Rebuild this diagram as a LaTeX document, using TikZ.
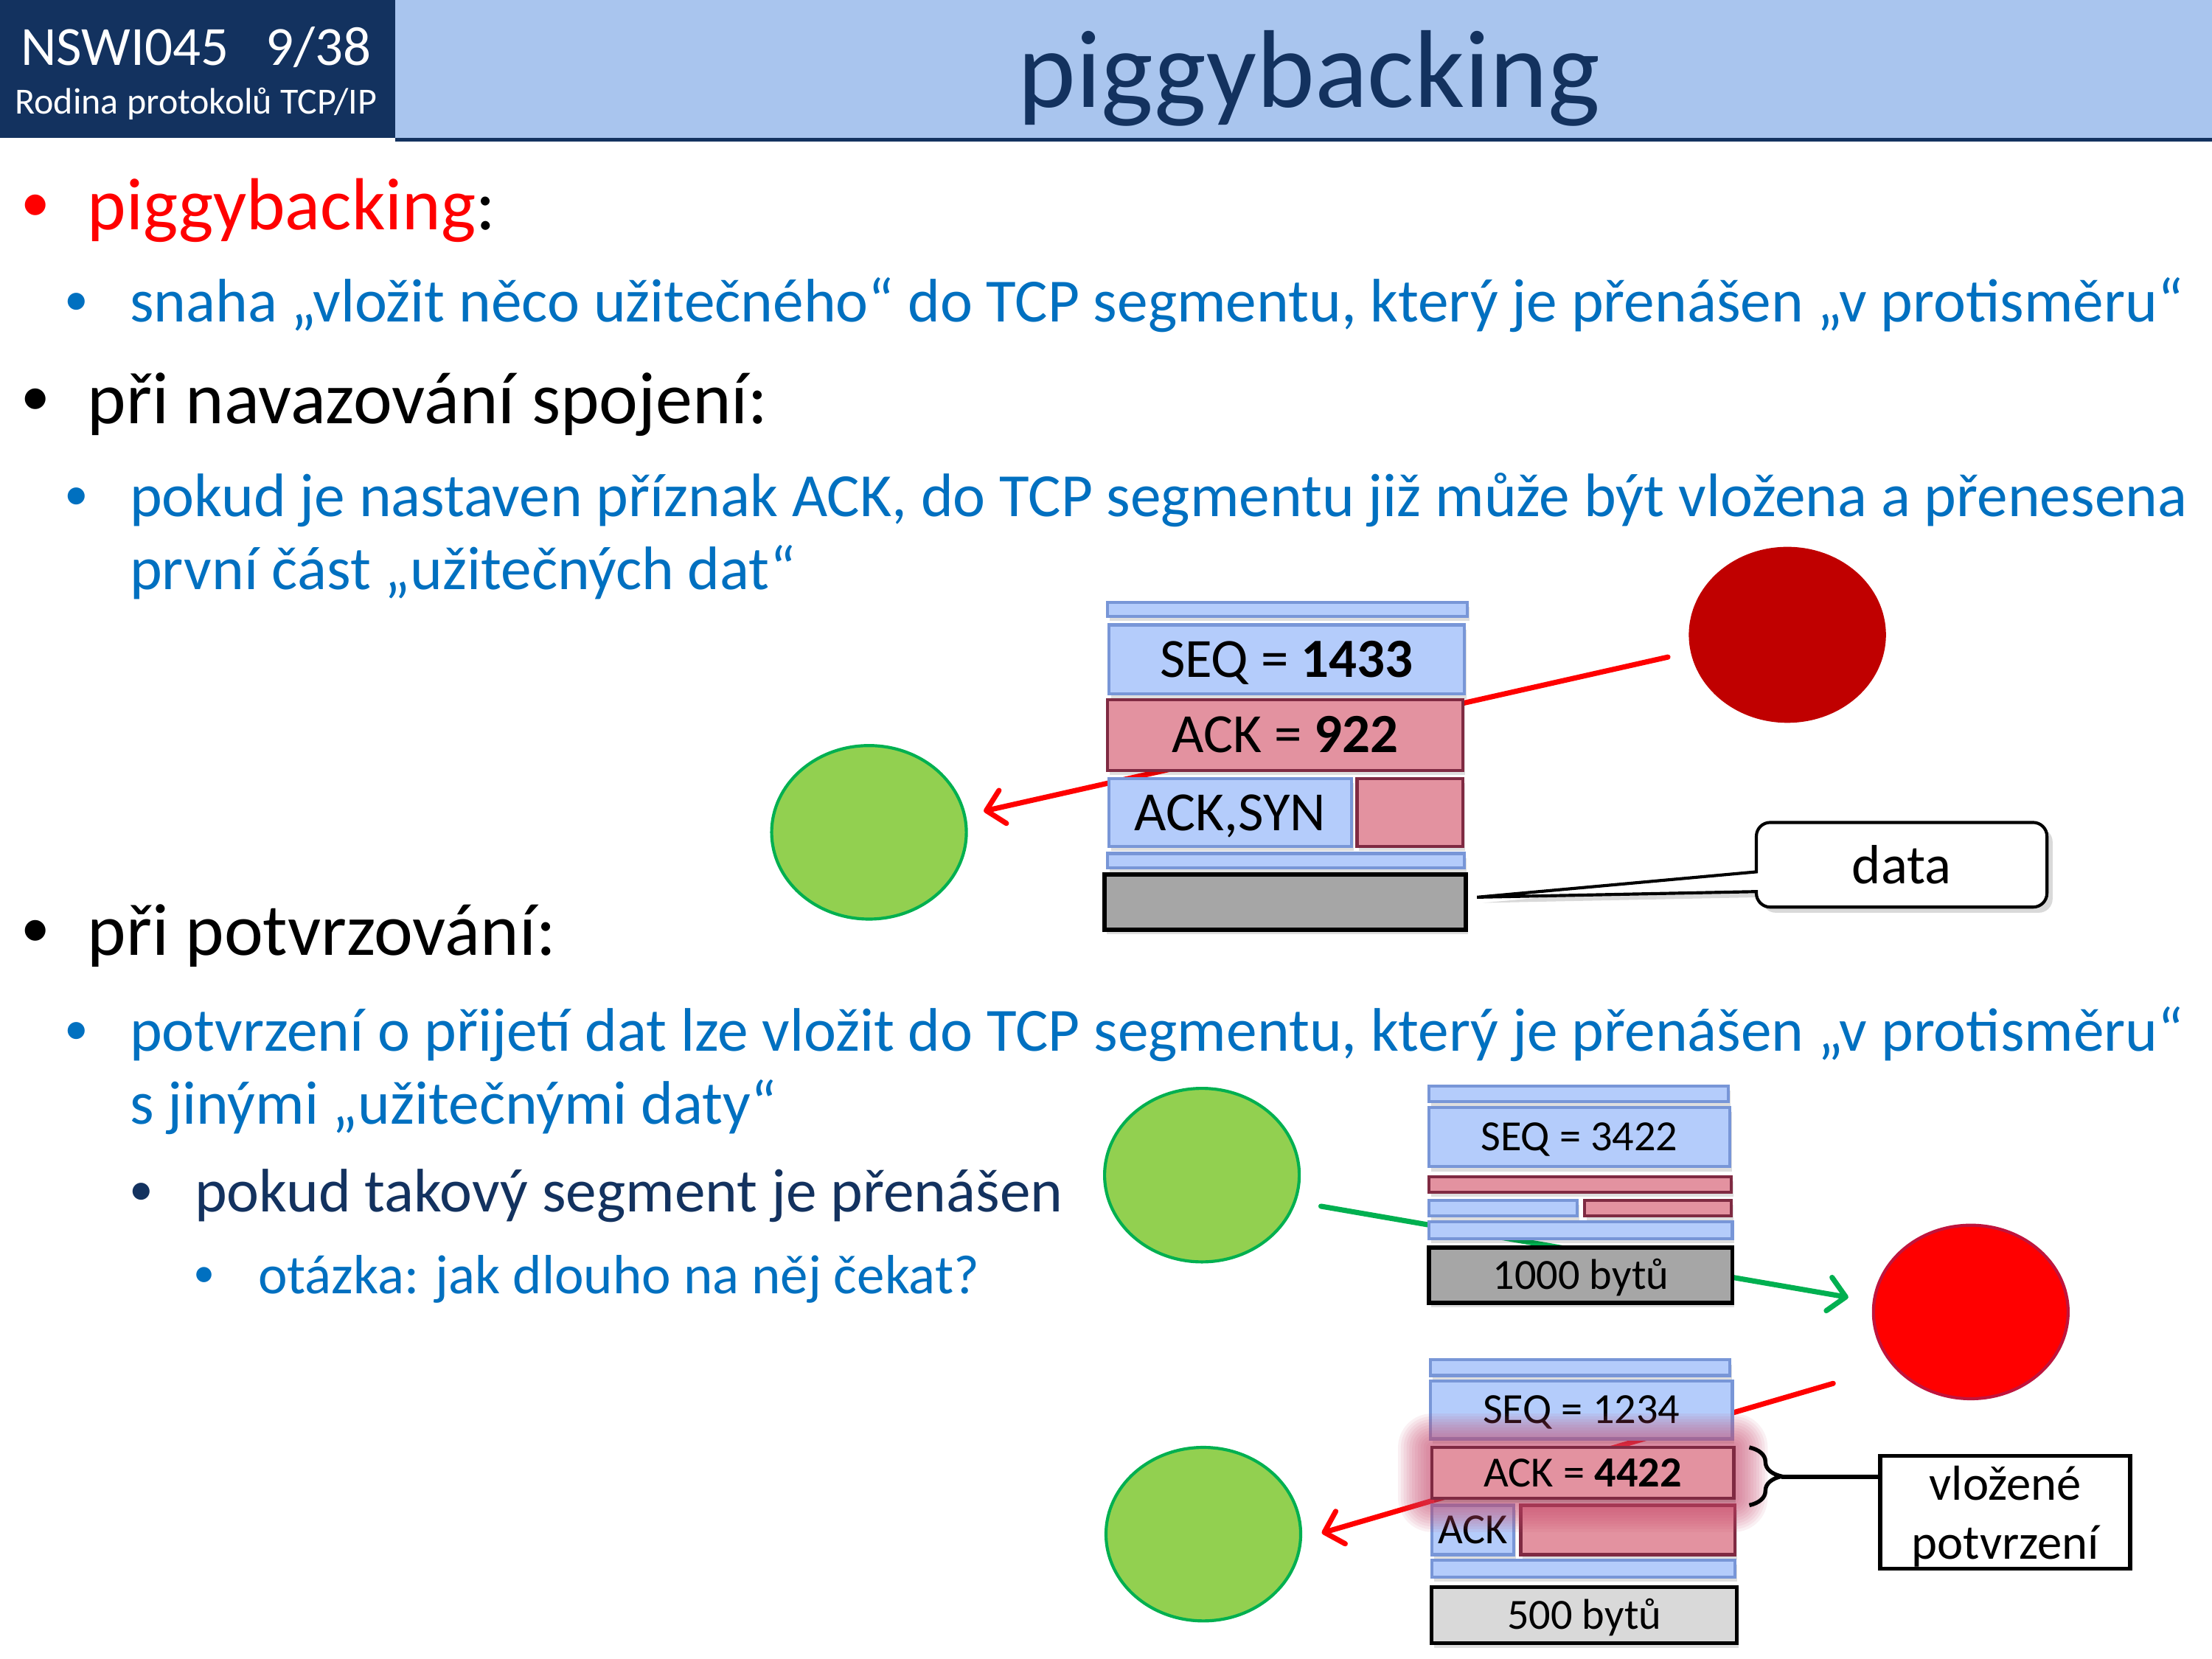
\documentclass[tikz,border=0pt]{standalone}
\usepackage{fontspec}
\setmainfont{Carlito}
\usetikzlibrary{arrows.meta,shapes.geometric,decorations.pathreplacing,calc}
\definecolor{hdrdark}{HTML}{13325F}
\definecolor{hdrlight}{HTML}{A9C5EE}
\definecolor{txtblue}{HTML}{0070C0}
\definecolor{boxblue}{HTML}{B4CCFB}
\definecolor{boxbluedraw}{HTML}{7896D7}
\definecolor{boxpink}{HTML}{E392A0}
\definecolor{boxpinkdraw}{HTML}{7F2A42}
\definecolor{greyfill}{HTML}{A6A6A6}
\definecolor{lgreyfill}{HTML}{D9D9D9}
\definecolor{hostgreen}{HTML}{92D050}
\definecolor{hostgreenline}{HTML}{00B050}
\definecolor{darkredhost}{HTML}{C00000}
\definecolor{redhostline}{HTML}{C0143C}
\definecolor{glowc}{HTML}{C8486A}
\newcommand\fsTitle{\fontsize{36}{43}\selectfont}
\newcommand\fsHdrA{\fontsize{18}{21.6}\selectfont}
\newcommand\fsHdrB{\fontsize{12}{14.4}\selectfont}
\newcommand\fsLA{\fontsize{24}{28.8}\selectfont}
\newcommand\fsLB{\fontsize{20}{24}\selectfont}
\newcommand\fsLD{\fontsize{18}{21.6}\selectfont}
\newcommand\fsBA{\fontsize{19}{22}\selectfont}
\newcommand\fsBB{\fontsize{15.7}{18}\selectfont}
\newcommand\fsBD{\fontsize{14}{16}\selectfont}
\newcommand\fsBig{\fontsize{18}{21.6}\selectfont}
\newcommand\fsSmall{\fontsize{14}{16.8}\selectfont}
\newcommand\fsMid{\fontsize{16}{19.2}\selectfont}
\begin{document}
\begin{tikzpicture}[x=0.45918pt,y=-0.45918pt,
  every node/.style={inner sep=0pt, outer sep=0pt},
  sz/.style 2 args={minimum width={#1*0.45918pt}, minimum height={#2*0.45918pt}},
  capbig/.style={font=\fsBig, text height=11.5pt, text depth=0pt},
  capsmall/.style={font=\fsSmall, text height=8.95pt, text depth=0pt},
  boxshadow/.style={preaction={fill=black, opacity=0.13, transform canvas={xshift=0.7pt, yshift=-1.5pt}}},
  bluebox/.style={rectangle, boxshadow, fill=boxblue, draw=boxbluedraw, line width=1pt},
  pinkbox/.style={rectangle, boxshadow, fill=boxpink, draw=boxpinkdraw, line width=1pt},
  greybox/.style={rectangle, boxshadow, fill=greyfill, draw=black, line width=1.4pt},
  lgreybox/.style={rectangle, boxshadow, fill=lgreyfill, draw=black, line width=1.2pt},
  host/.style={ellipse, minimum width={138*0.45918pt}, minimum height={123*0.45918pt}},
  greenhost/.style={host, fill=hostgreen, draw=hostgreenline, line width=1pt},
  barb/.style={-{Straight Barb[length=5.5pt,width=11pt,line width=1.7pt,round]}},
  redline/.style={draw=red, line width=1.7pt, line cap=round, barb},
  greenline/.style={draw=hostgreenline, line width=1.7pt, line cap=round, barb},
  bul/.style={anchor=base},
  ln/.style={anchor=base west}
]
\useasboundingbox (0,0) rectangle (1568,1176);
\fill[white] (0,0) rectangle (1568,1176);
% header
\fill[hdrdark] (0,0) rectangle (280,98);
\fill[hdrlight] (280,0) rectangle (1568,97.5);
\fill[hdrdark] (280,97.5) rectangle (1568,100.5);
\node[anchor=base, text=white, font=\fsHdrA] (hdr1) at (139,46) {NSWI045\ \ \ 9/38};
\node[anchor=base, text=white, font=\fsHdrB] (hdr2) at (139,81) {Rodina protokolů TCP/IP};
\node[anchor=base, text=hdrdark, font=\fsTitle] (title) at (928,76) {piggybacking};
% bullets and text
\node[bul, text=red, font=\fsBA] (b1) at (25,157.3) {•};
\node[ln, text=red, font=\fsLA] (t1) at (62,163) {piggybacking\textcolor{black}{:}};
\node[bul, text=txtblue, font=\fsBB] (b2) at (54,223.2) {•};
\node[ln, text=txtblue, font=\fsLB] (t2) at (92,228) {snaha „vložit něco užitečného“ do TCP segmentu, který je přenášen „v protisměru“};
\node[bul, text=black, font=\fsBA] (b3) at (25,294.7) {•};
\node[ln, text=black, font=\fsLA] (t3) at (62,300.5) {při navazování spojení:};
\node[bul, text=txtblue, font=\fsBB] (b4) at (54,361.2) {•};
\node[ln, text=txtblue, font=\fsLB] (t4) at (92,366) {pokud je nastaven příznak ACK, do TCP segmentu již může být vložena a přenesena};
\node[ln, text=txtblue, font=\fsLB] (t4b) at (92,418) {první část „užitečných dat“};
\node[bul, text=black, font=\fsBA] (b5) at (25,671.3) {•};
\node[ln, text=black, font=\fsLA] (t5) at (62,677) {při potvrzování:};
\node[bul, text=txtblue, font=\fsBB] (b6) at (54,740.2) {•};
\node[ln, text=txtblue, font=\fsLB] (t6) at (92,745) {potvrzení o přijetí dat lze vložit do TCP segmentu, který je přenášen „v protisměru“};
\node[ln, text=txtblue, font=\fsLB] (t6b) at (92,797) {s jinými „užitečnými daty“};
\node[bul, text=hdrdark, font=\fsBB] (b7) at (100,854.2) {•};
\node[ln, text=hdrdark, font=\fsLB] (t7) at (138,859) {pokud takový segment je přenášen};
\node[bul, text=txtblue, font=\fsBD] (b8) at (145,912.3) {•};
\node[ln, text=txtblue, font=\fsLD] (t8) at (183,917) {otázka: jak dlouho na něj čekat?};
% hosts
\node[host, fill=darkredhost, draw=darkredhost, line width=0.8pt] (redA) at (1267,450) {};
\node[greenhost] (greenA) at (616,590) {};
\node[greenhost] (greenB) at (852,833) {};
\node[host, fill=red, draw=redhostline, line width=1pt] (redB) at (1397,930) {};
\node[greenhost] (greenC) at (853,1087.5) {};
% connectors (behind boxes)
\draw[redline, shorten <=8pt, shorten >=6.4pt] (redA.190) -- (greenA.10.4);
\draw[greenline, shorten <=8.7pt, shorten >=8.5pt] (greenB.-16) -- (redB.174);
\draw[redline, shorten <=20.7pt, shorten >=7.2pt] (redB.215.4) -- (greenC.-3);
% upper segment
\node[bluebox, sz={255}{10}] (bar1) at (912.5,432) {};
\node[bluebox, sz={252}{49}, capbig] (seq1) at (912,467.5) {SEQ = \textbf{1433}};
\node[pinkbox, sz={252}{50}, capbig] (ack1) at (911,521) {ACK = \textbf{922}};
\node[bluebox, sz={172}{48}, capbig] (syn1) at (872,576) {ACK,SYN};
\node[pinkbox, sz={75}{48}] (pk1) at (999.5,576) {};
\node[bluebox, sz={253}{10}] (bar2) at (911.5,610) {};
\node[greybox, sz={256}{39}] (dat1) at (911,639.5) {};
% data callout
\fill[black, opacity=0.15] (1051,640) -- (1249,622) [rounded corners=4.5pt] -- (1249,587) -- (1455,587) -- (1455,647) -- (1249,647) [sharp corners] -- (1249,636) -- cycle;
\draw[black, line width=1pt, fill=white] (1047,636) -- (1245,618) [rounded corners=4.5pt] -- (1245,583) -- (1451,583) -- (1451,643) -- (1245,643) [sharp corners] -- (1245,632) -- cycle;
\node[capbig] (datatxt) at (1348,614) {data};
% lower segment 1
\node[bluebox, sz={212}{11}] (bar3) at (1119,775.5) {};
\node[bluebox, sz={213}{42}, capsmall] (seq2) at (1119.5,806) {SEQ = 3422};
\node[pinkbox, sz={214}{11}] (pbar1) at (1120,839.5) {};
\node[bluebox, sz={105}{11}] (bbar2) at (1065.5,856.5) {};
\node[pinkbox, sz={104}{11}] (pbar2) at (1175,856.5) {};
\node[bluebox, sz={215}{12}] (bbar3) at (1120.5,872) {};
\node[greybox, sz={215}{39}, capsmall] (g1000) at (1120.5,904) {1000 bytů};
% lower segment 2
\node[bluebox, sz={212}{11}] (bar4) at (1120,969.5) {};
\node[bluebox, sz={214}{41}, capsmall] (seq3) at (1121,999.5) {SEQ = 1234};
\node[bluebox, sz={58}{35}, capsmall] (ackf) at (1044,1084.5) {ACK};
\node[pinkbox, sz={152}{35}] (pk3) at (1154,1084.5) {};
\node[bluebox, sz={215}{12}] (bar5) at (1122.5,1112) {};
\node[lgreybox, sz={216}{40}, capsmall] (g500) at (1123,1145) {500 bytů};
\foreach \g in {2,4,6,8,10,12,14,16,18,20,22,24}{
  \fill[glowc, opacity=0.08, rounded corners={\g*0.45918pt}] ({1015-\g},{1026-\g}) rectangle ({1229+\g},{1062+\g});
}
\node[pinkbox, sz={214}{36}, capsmall] (ack3) at (1122,1044) {ACK = \textbf{4422}};
% brace and label
\draw[black, line width=1.3pt, decorate, decoration={brace, amplitude=10.5pt}] (1240,1026) -- (1240,1067);
\coordinate (btip) at (1263,1047);
\node[rectangle, draw=black, line width=1.4pt, fill=white, sz={177}{80}] (vbox) at (1421.5,1072) {};
\node[font=\fsMid, align=center] (vtxt) at (1421.5,1075) {vložené\\potvrzení};
\draw[black, line width=1.3pt] (btip) -- (btip -| vbox.west);
\end{tikzpicture}
\end{document}
